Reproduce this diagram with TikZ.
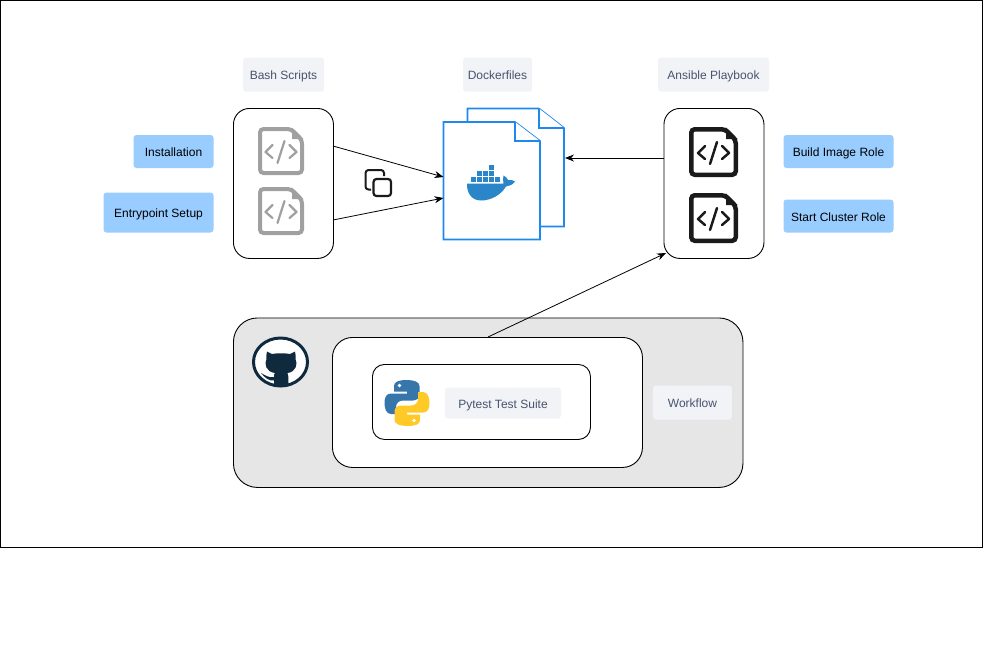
\documentclass[tikz,border=0pt]{standalone}
\usepackage{fontspec}
\setmainfont{Liberation Sans}
\usetikzlibrary{arrows.meta,shapes.geometric}
\definecolor{tagbg}{HTML}{F1F3F6}
\definecolor{tagfg}{HTML}{47536F}
\definecolor{bluetag}{HTML}{99CCFF}
\definecolor{docblue}{HTML}{1E88EE}
\definecolor{whale}{HTML}{2A86C8}
\definecolor{ghdark}{HTML}{0F2A3D}
\definecolor{ghgray}{HTML}{E6E6E6}
\definecolor{iconblack}{HTML}{1A1A1A}
\definecolor{icongray}{HTML}{A0A0A0}
\definecolor{pyblue}{HTML}{3776AB}
\definecolor{pyyellow}{HTML}{FFCA28}
\tikzset{
  x=1pt,y=-1pt,
  every node/.style={font=\fontsize{12}{14}\selectfont},
  tag/.style={fill=tagbg,text=tagfg,rounded corners=3pt,inner sep=0pt,anchor=center,text height=10.6pt,text depth=0pt},
  bluebox/.style={fill=bluetag,text=black,rounded corners=3pt,inner sep=0pt,anchor=center,text height=10.6pt,text depth=0pt},
  panel/.style={draw=black,fill=white,rounded corners=16pt,line width=0.9pt,inner sep=0pt,anchor=north west},
  conn/.style={draw=black,line width=0.8pt,-{Stealth[length=9pt,width=7pt]}},
  docsheet/.style={draw=docblue,fill=white,line width=1.7pt,line join=miter}
}
% #1 x, #2 y (top-left), #3 width, #4 height, #5 colour, #6 line width (number)
\newcommand{\codefile}[6]{%
  \begin{scope}[shift={(#1,#2)}]
    \draw[#5,line width=#6 pt,fill=white,rounded corners=3.5pt]
      ({#6*0.5},{#6*0.5}) -- ({#3-13},{#6*0.5}) -- ({#3-#6*0.5},13) -- ({#3-#6*0.5},{#4-#6*0.5}) -- ({#6*0.5},{#4-#6*0.5}) -- cycle;
    \fill[#5] ({#3-12},0.5) -- ({#3-0.5},12) -- ({#3-12},12) -- cycle;
    \draw[#5,line width=#6*0.55 pt,line cap=round,line join=round]
      ({#3*0.5-8.5},{#4*0.5-6}) -- ({#3*0.5-15.5},{#4*0.5+1}) -- ({#3*0.5-8.5},{#4*0.5+7})
      ({#3*0.5+8.5},{#4*0.5-6}) -- ({#3*0.5+15.5},{#4*0.5+1}) -- ({#3*0.5+8.5},{#4*0.5+7})
      ({#3*0.5+3.5},{#4*0.5-10}) -- ({#3*0.5-3.5},{#4*0.5+12});
  \end{scope}}
\begin{document}
\begin{tikzpicture}
\useasboundingbox (0,0) rectangle (983,670);
\fill[white] (0,0) rectangle (983,670);
\node[draw=black,line width=0.8pt,fill=white,minimum width=982pt,minimum height=547pt,inner sep=0pt,anchor=north west] (frame) at (0.4,0.4) {};

% Top panels
\node[panel,minimum width=100pt,minimum height=150pt] (bash) at (233,108) {};
\node[panel,minimum width=100pt,minimum height=150pt] (ansible) at (663.5,108) {};

% Tags
\node[tag,minimum width=81pt,minimum height=34pt] (tbash) at (283.5,74.5) {Bash Scripts};
\node[tag,minimum width=69pt,minimum height=34pt] (tdock) at (497.5,74.5) {Dockerfiles};
\node[tag,minimum width=111pt,minimum height=34pt] (tans) at (713.5,74.5) {Ansible Playbook};

% Blue boxes
\node[bluebox,minimum width=80pt,minimum height=33pt] (inst) at (173.5,151.5) {Installation};
\node[bluebox,minimum width=110pt,minimum height=40pt] (entry) at (158.5,212.5) {Entrypoint Setup};
\node[bluebox,minimum width=110pt,minimum height=33pt] (build) at (838.5,151.5) {Build Image Role};
\node[bluebox,minimum width=110pt,minimum height=33pt] (start) at (838.5,216) {Start Cluster Role};

% Code icons
\codefile{258}{127}{46}{48}{icongray}{4}
\codefile{258}{187}{46}{48}{icongray}{4}
\codefile{689}{127}{49}{50}{iconblack}{4.5}
\codefile{689}{193}{49}{50}{iconblack}{4.5}

% Copy icon
\draw[iconblack,line width=2pt,rounded corners=3pt] (371,189.5) -- (365.5,189.5) -- (365.5,170) -- (384,170) -- (384,176);
\draw[iconblack,line width=2.2pt,fill=white,rounded corners=3pt] (373.5,179) rectangle (391,196);

% Dockerfiles
\draw[docsheet] (467.5,122) -- (467.5,108.5) -- (539,108.5) -- (564,128) -- (564,226.5) -- (540,226.5);
\draw[docsheet] (539,108.5) -- (539,128) -- (564,128);
\draw[docsheet] (443.5,122) -- (515,122) -- (540,141) -- (540,239.5) -- (443.5,239.5) -- cycle;
\draw[docsheet] (515,122) -- (515,141) -- (540,141);
\coordinate (dockin1) at (443.5,177);
\coordinate (dockin2) at (443.5,198);
\coordinate (dockin3) at (565,158);
\coordinate (bashout1) at (333,146);
\coordinate (bashout2) at (333,220);
\coordinate (ansout1) at (663.5,158);
\coordinate (ansin) at (666,253);

% Whale
\fill[whale] (467,183.5) -- (503.5,183.5)
  .. controls (503,180) and (503,177) .. (503.5,175.5)
  .. controls (505.5,176.5) and (507.5,178) .. (508,180)
  .. controls (510.5,179.5) and (513,180) .. (515,181.5)
  .. controls (512.5,185) and (509.5,186) .. (506,186.5)
  .. controls (501,195) and (491,200.5) .. (481,200.5)
  .. controls (471,200.5) and (466.5,192) .. (467,183.5) -- cycle;
\foreach \bx/\by in {471/177,477/177,483/177,489/177,495/177,477/171,483/171,489/171,489/165}{
  \fill[whale] (\bx,\by) rectangle ++(5,5);
}

% Bottom panels
\node[draw=black,fill=ghgray,rounded corners=24pt,line width=0.9pt,inner sep=0pt,anchor=north west,minimum width=509.5pt,minimum height=169.5pt] (gh) at (233,317.5) {};
\node[panel,rounded corners=20pt,minimum width=310pt,minimum height=130pt] (wf) at (332,337) {};
\node[panel,rounded corners=12pt,minimum width=218pt,minimum height=75pt] (py) at (372,364) {};
\node[tag,minimum width=116pt,minimum height=31pt] (tpy) at (503,403) {Pytest Test Suite};
\node[tag,minimum width=79pt,minimum height=34pt] (twf) at (692.5,402.5) {Workflow};

% GitHub logo
\node[draw=ghdark,fill=white,line width=3pt,shape=ellipse,minimum width=54pt,minimum height=48pt,inner sep=0pt] (ghlogo) at (280.5,362) {};
\fill[ghdark] (267,351.5) -- (272,354) .. controls (277,353) and (285,353) .. (290,354) -- (295,351.5)
  .. controls (295.5,354) and (296,357) .. (295.5,359)
  .. controls (298,364) and (296,372) .. (287.5,373)
  .. controls (288.5,375) and (288.5,377) .. (288.5,386) -- (274,386)
  -- (274,380.5) .. controls (269,381) and (265,378) .. (261,373)
  .. controls (265,375) and (268,378) .. (274,377)
  .. controls (274,375) and (274,374) .. (275,373)
  .. controls (266,372) and (264,364) .. (266.5,359)
  .. controls (266,357) and (266.5,354) .. (267,351.5) -- cycle;

% Python logo
\fill[pyblue] (407,380)
  .. controls (399,380) and (394,381.5) .. (394,386) -- (394,391.5) -- (407,391.5) -- (407,393.5) -- (391,393.5)
  .. controls (386,393.5) and (384.5,398) .. (384.5,403)
  .. controls (384.5,408) and (386,414) .. (391,414) -- (396,414) -- (396,407.5)
  .. controls (396,403) and (399,400.5) .. (403,400.5) -- (413,400.5)
  .. controls (416.5,400.5) and (419.5,398) .. (419.5,395) -- (419.5,386)
  .. controls (419.5,382) and (414,380) .. (407,380) -- cycle;
\fill[pyyellow] (407,426)
  .. controls (415,426) and (420,424.5) .. (420,420) -- (420,414.5) -- (407,414.5) -- (407,412.5) -- (423,412.5)
  .. controls (428,412.5) and (429.5,408) .. (429.5,403)
  .. controls (429.5,398) and (428,392) .. (423,392) -- (418,392) -- (418,398.5)
  .. controls (418,403) and (415,405.5) .. (411,405.5) -- (401,405.5)
  .. controls (397.5,405.5) and (394.5,408) .. (394.5,411) -- (394.5,420)
  .. controls (394.5,424) and (400,426) .. (407,426) -- cycle;
\fill[white] (399.5,385.5) circle (1.8pt) (414,420.5) circle (1.8pt);

% Connectors
\draw[conn] (bashout1) -- (dockin1);
\draw[conn] (bashout2) -- (dockin2);
\draw[conn] (ansout1) -- (dockin3);
\coordinate (wfout) at (488,337);
\draw[conn] (wfout) -- (ansin);
\end{tikzpicture}
\end{document}
